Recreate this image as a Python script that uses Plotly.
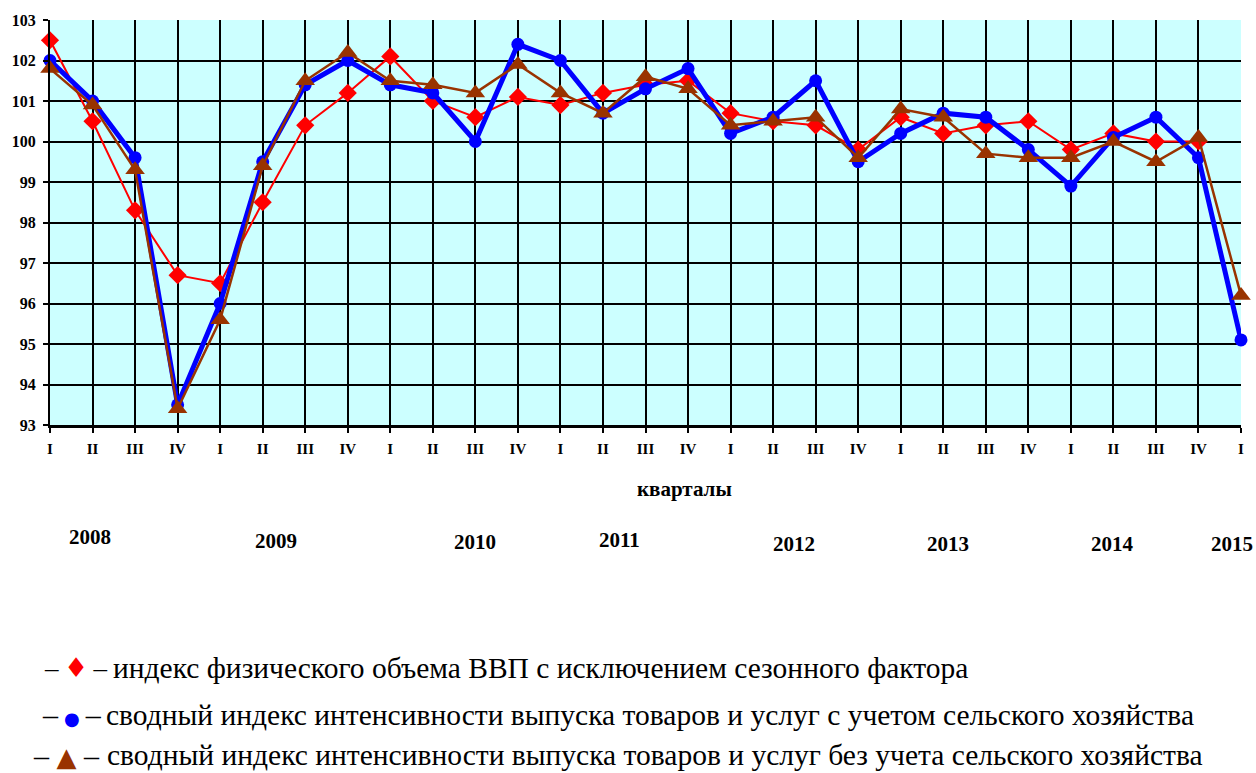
import plotly.graph_objects as go

# ---------------- data ----------------
quarter_labels = ["I", "II", "III", "IV"] * 7 + ["I"]
years = ["2008", "2009", "2010", "2011", "2012", "2013", "2014", "2015"]
year_label_x = [0.94, 5.32, 9.98, 13.38, 17.5, 21.1, 24.98, 27.8]
year_label_ypx = [538, 542, 543, 541, 545, 545, 545, 545]

gdp_index = [102.5, 100.5, 98.3, 96.7, 96.5, 98.5, 100.4, 101.2, 102.1, 101.0,
             100.6, 101.1, 100.9, 101.2, 101.4, 101.5, 100.7, 100.5, 100.4, 99.8,
             100.6, 100.2, 100.4, 100.5, 99.8, 100.2, 100.0, 100.0, None]
with_agri = [102.0, 101.0, 99.6, 93.5, 96.0, 99.5, 101.4, 102.0, 101.4, 101.2,
             100.0, 102.4, 102.0, 100.7, 101.3, 101.8, 100.2, 100.6, 101.5, 99.5,
             100.2, 100.7, 100.6, 99.8, 98.9, 100.1, 100.6, 99.6, 95.1]
without_agri = [101.8, 100.9, 99.3, 93.4, 95.6, 99.4, 101.5, 102.2, 101.5, 101.4,
                101.2, 101.9, 101.2, 100.7, 101.6, 101.3, 100.4, 100.5, 100.6, 99.6,
                100.8, 100.6, 99.7, 99.6, 99.6, 100.0, 99.5, 100.1, 96.2]

names = [
    "индекс физического объема ВВП с исключением сезонного фактора",
    "сводный индекс интенсивности выпуска товаров и услуг с учетом сельского хозяйства",
    "сводный индекс интенсивности выпуска товаров и услуг без учета сельского хозяйства",
]
colors = ["#FF0000", "#0000FF", "#993300"]
legend_glyphs = ["♦", "●", "▲"]
legend_glyph_sizes = [27, 18, 26]
legend_dash_sizes = [27, 30, 30]
legend_gap = ["\u2009", "\u2009", " "]
legend_sym_cx = [72, 68, 63]
legend_text_x = [107, 100, 101]
legend_row_y = [669, 716, 757]

# ---------------- layout geometry ----------------
W, H = 1256, 773
ML, MR, MT, MB = 46, 15, 18, 348
PW = W - ML - MR
PH = H - MT - MB
PLOT_BOTTOM = H - MB


def ypaper(py):
    return (PLOT_BOTTOM - py) / PH


def xpaper(px):
    return (px - ML) / PW


SERIF = "Liberation Serif"
x = list(range(len(quarter_labels)))

fig = go.Figure()
fig.add_trace(go.Scatter(
    x=x, y=gdp_index, name=names[0], mode="lines+markers",
    line=dict(color=colors[0], width=2),
    marker=dict(symbol="diamond", size=14, color=colors[0]),
    cliponaxis=False))
fig.add_trace(go.Scatter(
    x=x, y=with_agri, name=names[1], mode="lines+markers",
    line=dict(color=colors[1], width=5),
    marker=dict(symbol="circle", size=13, color=colors[1]),
    cliponaxis=False))
fig.add_trace(go.Scatter(
    x=x, y=without_agri, name=names[2], mode="lines+markers",
    line=dict(color=colors[2], width=2.5),
    marker=dict(symbol="triangle-up", size=17, color=colors[2]),
    cliponaxis=False))

annotations = [dict(
    text="кварталы", xref="paper", yref="paper", x=xpaper(683), y=ypaper(489),
    xanchor="center", yanchor="middle", showarrow=False,
    font=dict(family=SERIF, size=21, color="black", weight="bold"))]
for yr, xv, ypx in zip(years, year_label_x, year_label_ypx):
    annotations.append(dict(
        text=yr, xref="x", yref="paper", x=xv, y=ypaper(ypx),
        xanchor="center", yanchor="middle", showarrow=False,
        font=dict(family=SERIF, size=21, color="black", weight="bold")))

# legend drawn as text rows: "– marker –  series name"
for nm, col, gl, gs, ds, gap, cx, tx, ry in zip(
        names, colors, legend_glyphs, legend_glyph_sizes, legend_dash_sizes, legend_gap,
        legend_sym_cx, legend_text_x, legend_row_y):
    annotations.append(dict(
        text=("–%s<span style='color:%s;font-family:DejaVu Sans;font-size:%dpx'>%s</span>%s–"
              % (gap, col, gs, gl, gap)),
        xref="paper", yref="paper", x=xpaper(cx), y=ypaper(ry),
        xanchor="center", yanchor="middle", showarrow=False,
        font=dict(family=SERIF, size=ds, color="black")))
    annotations.append(dict(
        text=nm, xref="paper", yref="paper", x=xpaper(tx), y=ypaper(ry),
        xanchor="left", yanchor="middle", showarrow=False,
        font=dict(family=SERIF, size=29.5, color="black")))

fig.update_layout(
    width=W, height=H,
    margin=dict(l=ML, r=MR, t=MT, b=MB, pad=0),
    paper_bgcolor="white",
    plot_bgcolor="#CCFFFF",
    font=dict(family=SERIF, color="black"),
    annotations=annotations,
    showlegend=False,
    xaxis=dict(
        range=[0, len(quarter_labels) - 1],
        tickmode="array", tickvals=x, ticktext=quarter_labels,
        showgrid=True, gridcolor="black", gridwidth=2,
        zeroline=False, showline=True, linecolor="black", linewidth=3,
        ticks="outside", ticklen=5, tickwidth=1.5, tickcolor="black",
        ticklabelstandoff=3,
        tickfont=dict(family=SERIF, size=15, color="black", weight="bold")),
    yaxis=dict(
        range=[93, 103], dtick=1, tick0=93,
        showgrid=True, gridcolor="black", gridwidth=2,
        zeroline=False, showline=True, linecolor="black", linewidth=2,
        ticks="outside", ticklen=5, tickwidth=1.5, tickcolor="black",
        ticklabelstandoff=4,
        tickfont=dict(family=SERIF, size=16, color="black", weight="bold")),
)

fig.write_html("out.html",
               config={"displayModeBar": False},
               post_script="document.body.style.margin='0px';"
                           "document.body.style.overflow='hidden';")
